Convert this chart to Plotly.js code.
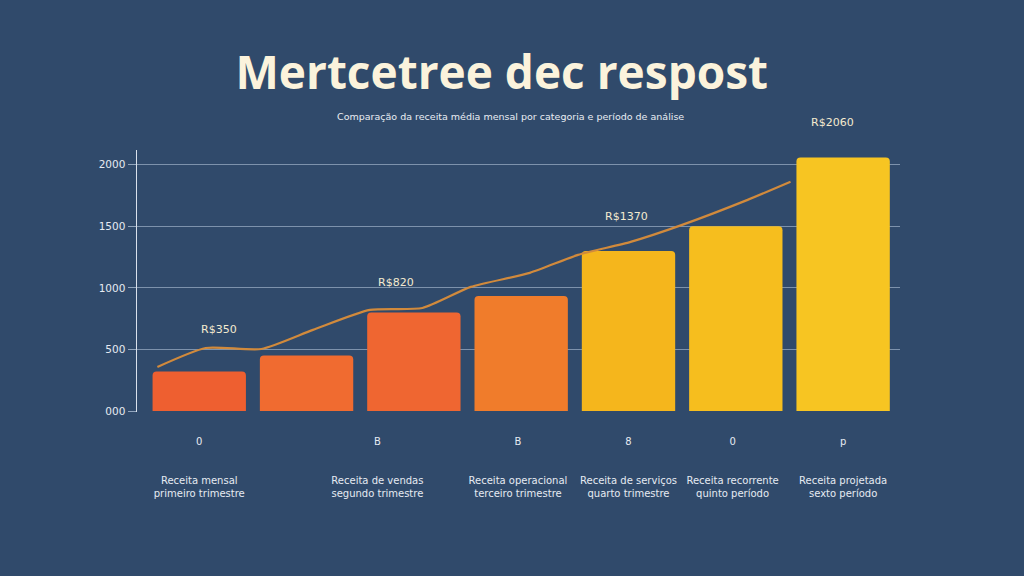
<!DOCTYPE html>
<html>
<head>
<meta charset="utf-8">
<script src="https://cdn.plot.ly/plotly-3.0.1.min.js"></script>
<style>
  html, body { margin: 0; padding: 0; background: #304a6b; }
  #chart { width: 1024px; height: 576px; }
</style>
</head>
<body>
<div id="chart"></div>
<script>
// bar data
let barPos = [0, 1, 2, 3, 4, 5, 6];
let barValues = [320, 450, 800, 935, 1300, 1500, 2060];
let barColors = ['#ee5f30', '#f06b30', '#ef6631', '#f07c2b', '#f5b61c', '#f6be1e', '#f7c522'];

// trend line
let lineX = [-0.39, 0.06, 0.58, 1.06, 1.59, 2.08, 2.53, 3.08, 3.53, 4.02, 4.50, 5.11, 5.51];
let lineY = [358, 512, 504, 659, 821, 837, 1008, 1122, 1268, 1374, 1512, 1715, 1862];

// value labels above the line
let labelX = [0.18, 1.83, 3.98, 5.9];
let labelY = [660, 1040, 1580, 2340];
let labelText = ['R$350', 'R$820', 'R$1370', 'R$2060'];

// x axis labels
let catPos = [0, 1.66, 2.97, 4.0, 4.97, 6.0];
let catNum = ['0', 'B', 'B', '8', '0', 'p'];
let catLine1 = ['Receita mensal', 'Receita de vendas', 'Receita operacional', 'Receita de serviços', 'Receita recorrente', 'Receita projetada'];
let catLine2 = ['primeiro trimestre', 'segundo trimestre', 'terceiro trimestre', 'quarto trimestre', 'quinto período', 'sexto período'];

// y axis ticks
let yTicks = [0, 500, 1000, 1500, 2000];
let yTickText = ['000', '500', '1000', '1500', '2000'];
let yRange = [-8, 2120];

let textColor = '#e6ebf2';
let ticktext = [];
for (let i = 0; i < catPos.length; i++) {
    ticktext[i] = catNum[i] + '<br><br><br>' + catLine1[i] + '<br>' + catLine2[i];
}

let bars = {
    type: 'bar',
    x: barPos,
    y: barValues,
    width: 0.87,
    marker: { color: barColors, cornerradius: 4, line: { width: 0 } },
    hoverinfo: 'y'
};

let trend = {
    type: 'scatter',
    mode: 'lines',
    x: lineX,
    y: lineY,
    line: { color: '#d18a3c', width: 2.2, shape: 'spline', smoothing: 0.6 },
    hoverinfo: 'skip'
};

// value labels: y given in paper units so the top one may sit above the plot
let annotations = [];
for (let i = 0; i < labelX.length; i++) {
    annotations.push({
        x: labelX[i], xref: 'x',
        y: (labelY[i] - yRange[0]) / (yRange[1] - yRange[0]), yref: 'paper',
        xanchor: 'center', yanchor: 'middle',
        text: labelText[i], showarrow: false,
        font: { family: 'DejaVu Sans, sans-serif', size: 11, color: '#f4ead0' }
    });
}
annotations.push({
    xref: 'paper', yref: 'paper', x: 0.489, y: 1.0, yanchor: 'bottom', yshift: 26,
    text: 'Comparação da receita média mensal por categoria e período de análise',
    showarrow: false,
    font: { family: 'DejaVu Sans, sans-serif', size: 9.5, color: '#e9edf3' }
});

let layout = {
    width: 1024,
    height: 576,
    margin: { l: 137, r: 124, t: 150, b: 164 },
    paper_bgcolor: '#304a6b',
    plot_bgcolor: '#304a6b',
    showlegend: false,
    title: {
        text: '<b>Mertcetree dec respost</b>',
        x: 0.49, xanchor: 'center', y: 0.873, yanchor: 'middle',
        font: { family: 'Open Sans, sans-serif', size: 46, color: '#fbf3dc' }
    },
    xaxis: {
        range: [-0.58, 6.53],
        tickvals: catPos,
        ticktext: ticktext,
        tickangle: 0,
        showgrid: false,
        zeroline: false,
        showline: false,
        ticks: '',
        ticklabelstandoff: 22,
        tickfont: { family: 'DejaVu Sans, sans-serif', size: 10, color: textColor }
    },
    yaxis: {
        range: yRange,
        tickvals: yTicks,
        ticktext: yTickText,
        showgrid: true,
        gridcolor: 'rgba(190,205,225,0.55)',
        gridwidth: 1,
        zeroline: false,
        showline: true,
        linecolor: '#d9e1ec',
        linewidth: 1.5,
        ticks: 'outside',
        ticklen: 8,
        tickcolor: 'rgba(190,205,225,0.7)',
        tickfont: { family: 'DejaVu Sans, sans-serif', size: 10.5, color: textColor }
    },
    annotations: annotations,
    bargap: 0.1
};

Plotly.newPlot('chart', [bars, trend], layout, { displayModeBar: false, staticPlot: true });
</script>
</body>
</html>
